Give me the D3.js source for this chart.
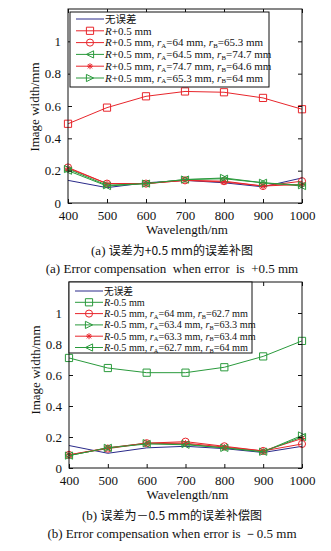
<!DOCTYPE html>
<html>
<head>
<meta charset="utf-8">
<script src="https://cdn.jsdelivr.net/npm/d3@7"></script>
<style>
  body { margin: 0; background: #fff; }
  svg text { font-family: "Liberation Serif", "Times New Roman", serif; }
  .cjk { font-family: "Noto Sans CJK SC", sans-serif; }
</style>
</head>
<body>
<div id="chart"></div>
<script>
// data
const wavelengths = [400, 500, 600, 700, 800, 900, 1000]
const yTicks = [0, 0.2, 0.4, 0.6, 0.8, 1]

// (a) error +0.5 mm
const noErrorA = [0.14, 0.095, 0.125, 0.14, 0.125, 0.10, 0.155]
const plusR = [0.49, 0.59, 0.66, 0.69, 0.685, 0.65, 0.58]
const plusC1 = [0.22, 0.12, 0.12, 0.14, 0.135, 0.105, 0.135]   // rA=64, rB=65.3
const plusC2 = [0.20, 0.105, 0.12, 0.145, 0.15, 0.125, 0.105]  // rA=64.5, rB=74.7
const plusC3 = [0.215, 0.12, 0.12, 0.14, 0.13, 0.105, 0.115]  // rA=74.7, rB=64.6
const plusC4 = [0.21, 0.11, 0.12, 0.145, 0.155, 0.125, 0.11]   // rA=65.3, rB=64

// (b) error -0.5 mm
const noErrorB = [0.145, 0.095, 0.13, 0.14, 0.125, 0.10, 0.14]
const minusR = [0.71, 0.645, 0.615, 0.615, 0.65, 0.72, 0.82]
const minusC1 = [0.085, 0.125, 0.16, 0.17, 0.14, 0.11, 0.155]  // rA=64, rB=62.7
const minusC2 = [0.08, 0.13, 0.16, 0.155, 0.13, 0.105, 0.21]   // rA=63.4, rB=63.3
const minusC3 = [0.085, 0.13, 0.16, 0.16, 0.135, 0.11, 0.19]   // rA=63.3, rB=63.4
const minusC4 = [0.08, 0.13, 0.155, 0.15, 0.13, 0.105, 0.20]   // rA=62.7, rB=64

const RED = "#e8262c", GREEN = "#2a9a3c", BLUE = "#2a2a8a"

const svg = d3.select("#chart").append("svg")
  .attr("width", 331).attr("height", 551)

// marker paths centred on 0,0
function markerPath(type) {
  const s = 3.6
  if (type === "square") return `M${-s},${-s}H${s}V${s}H${-s}Z`
  if (type === "circle") return d3.symbol(d3.symbolCircle, 40)()
  if (type === "left") return `M${-s},0L${s},${-s}L${s},${s}Z`
  if (type === "right") return `M${s},0L${-s},${-s}L${-s},${s}Z`
  if (type === "star") return `M-3,0H3M0,-3V3M-2.2,-2.2L2.2,2.2M-2.2,2.2L2.2,-2.2`
  return null
}

function drawPanel(p) {
  const g = svg.append("g")
  const x = d3.scaleLinear().domain([400, 1000]).range([p.left, p.right])
  const y = d3.scaleLinear().domain([0, 1.2]).range([p.bottom, p.top])

  // lines + markers
  const line = d3.line().x((d, i) => x(wavelengths[i])).y(d => y(d))
  p.series.forEach(s => {
    g.append("path").datum(s.values)
      .attr("d", line).attr("fill", "none")
      .attr("stroke", s.color).attr("stroke-width", 1)
    if (s.marker) {
      g.selectAll(null).data(s.values).enter().append("path")
        .attr("d", markerPath(s.marker))
        .attr("transform", (d, i) => `translate(${x(wavelengths[i])},${y(d)})`)
        .attr("fill", "none").attr("stroke", s.color).attr("stroke-width", 1)
    }
  })

  // axes with inward ticks on all four sides
  const ax = g.append("g")
  ax.append("g").attr("transform", `translate(0,${p.bottom})`)
    .call(d3.axisBottom(x).tickValues(wavelengths).tickSizeInner(-4).tickSizeOuter(0).tickPadding(8).tickFormat(d3.format("d")))
  ax.append("g").attr("transform", `translate(0,${p.top})`)
    .call(d3.axisTop(x).tickValues(wavelengths).tickSizeInner(-4).tickSizeOuter(0).tickFormat(""))
  ax.append("g").attr("transform", `translate(${p.left},0)`)
    .call(d3.axisLeft(y).tickValues(yTicks).tickSizeInner(-4).tickSizeOuter(0).tickPadding(7).tickFormat(d3.format("~g")))
  ax.append("g").attr("transform", `translate(${p.right},0)`)
    .call(d3.axisRight(y).tickValues(yTicks).tickSizeInner(-4).tickSizeOuter(0).tickFormat(""))
  ax.selectAll(".domain").remove()
  ax.selectAll("g").attr("font-size", 13).attr("font-family", null)
  ax.selectAll("text").attr("fill", "#111")
  ax.selectAll("line").attr("stroke", "#111")
  g.append("rect")
    .attr("x", p.left).attr("y", p.top)
    .attr("width", p.right - p.left).attr("height", p.bottom - p.top)
    .attr("fill", "none").attr("stroke", "#111").attr("stroke-width", 1)

  // axis titles
  g.append("text").attr("x", (p.left + p.right) / 2 + 2).attr("y", p.bottom + 31)
    .attr("text-anchor", "middle").attr("font-size", 13).attr("fill", "#111")
    .text("Wavelength/nm")
  g.append("text")
    .attr("transform", `translate(${p.left - 29},${p.titleY}) rotate(-90)`)
    .attr("text-anchor", "middle").attr("font-size", 13).attr("fill", "#111")
    .text("Image width/mm")

  // legend
  const L = p.legend
  const sub = L.font * 0.62
  g.append("rect").attr("x", L.x).attr("y", L.y).attr("width", L.w).attr("height", L.h)
    .attr("fill", "#fff").attr("stroke", "#111").attr("stroke-width", 1)
  p.series.forEach((s, i) => {
    const ry = L.y + L.first + i * L.step
    g.append("line").attr("x1", L.x + 6).attr("x2", L.x + 34).attr("y1", ry).attr("y2", ry)
      .attr("stroke", s.color).attr("stroke-width", 1)
    if (s.marker) {
      g.append("path").attr("d", markerPath(s.marker))
        .attr("transform", `translate(${L.x + 20},${ry})`)
        .attr("fill", "none").attr("stroke", s.color).attr("stroke-width", 1)
    }
    const t = g.append("text").attr("x", L.x + 35).attr("y", ry + L.font * 0.35)
      .attr("font-size", L.font).attr("fill", "#111")
    if (s.plain) {
      t.attr("class", "cjk").attr("font-size", L.font - 0.5).text(s.plain)
    } else {
      t.append("tspan").attr("font-style", "italic").text("R")
      t.append("tspan").text(`${p.errText} mm`)
      if (s.rA !== undefined) {
        t.append("tspan").text(", ")
        t.append("tspan").attr("font-style", "italic").text("r")
        t.append("tspan").attr("font-size", sub).attr("dy", 1.5).text("A")
        t.append("tspan").attr("dy", -1.5).text(`=${s.rA} mm, `)
        t.append("tspan").attr("font-style", "italic").text("r")
        t.append("tspan").attr("font-size", sub).attr("dy", 1.5).text("B")
        t.append("tspan").attr("dy", -1.5).text(`=${s.rB} mm`)
      }
    }
  })

  // captions
  g.append("text").attr("x", 172).attr("y", p.bottom + 52)
    .attr("text-anchor", "middle").attr("font-size", 13).attr("fill", "#111")
    .call(t => {
      t.append("tspan").text(p.tag + " ")
      t.append("tspan").attr("class", "cjk").attr("font-size", 12).text(p.cnCaption)
    })
  g.append("text").attr("x", 172).attr("y", p.bottom + 70)
    .attr("text-anchor", "middle").attr("font-size", 13).attr("fill", "#111")
    .attr("xml:space", "preserve")
    .text(p.enCaption)
}

drawPanel({
  left: 68, right: 302, top: 9, bottom: 203, titleY: 107,
  errText: "+0.5",
  tag: "(a)",
  cnCaption: "误差为+0.5 mm的误差补图",
  enCaption: "(a) Error compensation  when error  is  +0.5 mm",
  legend: { x: 70, y: 12, w: 199, h: 75, first: 7, step: 11.8, font: 11 },
  series: [
    { plain: "无误差", values: noErrorA, color: BLUE },
    { values: plusR, color: RED, marker: "square" },
    { values: plusC1, color: RED, marker: "circle", rA: 64, rB: 65.3 },
    { values: plusC2, color: GREEN, marker: "left", rA: 64.5, rB: 74.7 },
    { values: plusC3, color: RED, marker: "star", rA: 74.7, rB: 64.6 },
    { values: plusC4, color: GREEN, marker: "right", rA: 65.3, rB: 64 }
  ]
})

drawPanel({
  left: 69, right: 302, top: 282, bottom: 468, titleY: 370,
  errText: "-0.5",
  tag: "(b)",
  cnCaption: "误差为－0.5 mm的误差补偿图",
  enCaption: "(b) Error compensation when error is －0.5 mm",
  legend: { x: 69, y: 282, w: 183, h: 71, first: 9, step: 11.3, font: 10.2 },
  series: [
    { plain: "无误差", values: noErrorB, color: BLUE },
    { values: minusR, color: GREEN, marker: "square" },
    { values: minusC1, color: RED, marker: "circle", rA: 64, rB: 62.7 },
    { values: minusC2, color: GREEN, marker: "right", rA: 63.4, rB: 63.3 },
    { values: minusC3, color: RED, marker: "star", rA: 63.3, rB: 63.4 },
    { values: minusC4, color: GREEN, marker: "left", rA: 62.7, rB: 64 }
  ]
})
</script>
</body>
</html>
